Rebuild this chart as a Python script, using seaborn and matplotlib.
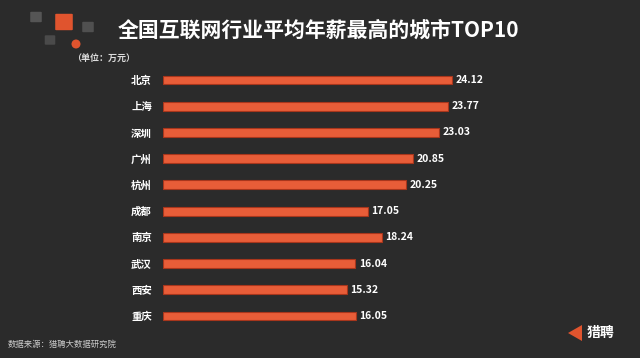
import matplotlib
matplotlib.use("Agg")
import matplotlib.pyplot as plt
import matplotlib.patches as mpatches
import seaborn as sns
import pandas as pd

cities = ["北京", "上海", "深圳", "广州", "杭州", "成都", "南京", "武汉", "西安", "重庆"]
salaries = [24.12, 23.77, 23.03, 20.85, 20.25, 17.05, 18.24, 16.04, 15.32, 16.05]
title = "全国互联网行业平均年薪最高的城市TOP10"
unit_text = "（单位：万元）"
source_text = "数据来源：猎聘大数据研究院"
logo_text = "猎聘"

sns.set_theme(style="white")
plt.rcParams['font.family'] = ['Noto Sans CJK SC', 'DejaVu Sans']

BG = "#2b2b2b"
BAR = "#e85d38"
EDGE = "#a8361c"

df = pd.DataFrame({"city": cities, "salary": salaries})

fig = plt.figure(figsize=(6.4, 3.58), dpi=100)
fig.patch.set_facecolor(BG)
ax = fig.add_axes([163/640, 1-329.1/358, 400/640, 262.2/358])
ax.set_facecolor(BG)

sns.barplot(data=df, x="salary", y="city", order=cities, orient="h",
            color=BAR, width=0.34, edgecolor=EDGE, linewidth=0.8,
            saturation=1, ax=ax)
ax.set_xlim(0, 400/12.0)
ax.set_ylim(9.5, -0.5)
for s in ax.spines.values():
    s.set_visible(False)
ax.set_xticks([])
ax.set_xlabel("")
ax.set_ylabel("")
ax.tick_params(axis="y", length=0, pad=8, labelsize=7.5, labelcolor="white")
for lab in ax.get_yticklabels():
    lab.set_fontweight("bold")

for i, v in enumerate(salaries):
    ax.text(v + 0.3, i, f"{v:.2f}", va="center", ha="left", color="white",
            fontsize=7.5, fontweight="bold")

# title and unit
fig.text(118/640, 1-30/358, title, color="white", fontsize=15, fontweight="bold",
         va="center", ha="left")
fig.text(72/640, 1-58/358, unit_text, color="#dddddd", fontsize=6.5,
         fontweight="bold", va="center", ha="left")

# decorative cubes
def sq(x, y, s, c):
    fig.patches.append(mpatches.FancyBboxPatch(((x - s/2)/640, 1-(y + s/2)/358), s/640, s/358,
                       boxstyle="round,pad=0.002", transform=fig.transFigure,
                       facecolor=c, edgecolor="none"))
sq(36, 17, 9, "#555555")
sq(50, 40, 8, "#4a4a4a")
sq(88, 27, 9, "#505050")
sq(64, 22, 15, "#e0542e")
fig.patches.append(mpatches.Ellipse((76/640, 1-44/358), 9/640, 9/358, transform=fig.transFigure,
                                    facecolor="#e0542e", edgecolor="none"))

# source
fig.text(8/640, 1-344/358, source_text, color="#cccccc", fontsize=6,
         va="center", ha="left")

# logo
fig.patches.append(mpatches.Polygon([(568/640, 1-333/358), (582/640, 1-325/358), (582/640, 1-341/358)],
                                    closed=True, transform=fig.transFigure,
                                    facecolor="#e0542e", edgecolor="none"))
fig.text(587/640, 1-333/358, logo_text, color="white", fontsize=10, fontweight="bold",
         va="center", ha="left")

fig.savefig("out.png", dpi=100, facecolor=BG)
